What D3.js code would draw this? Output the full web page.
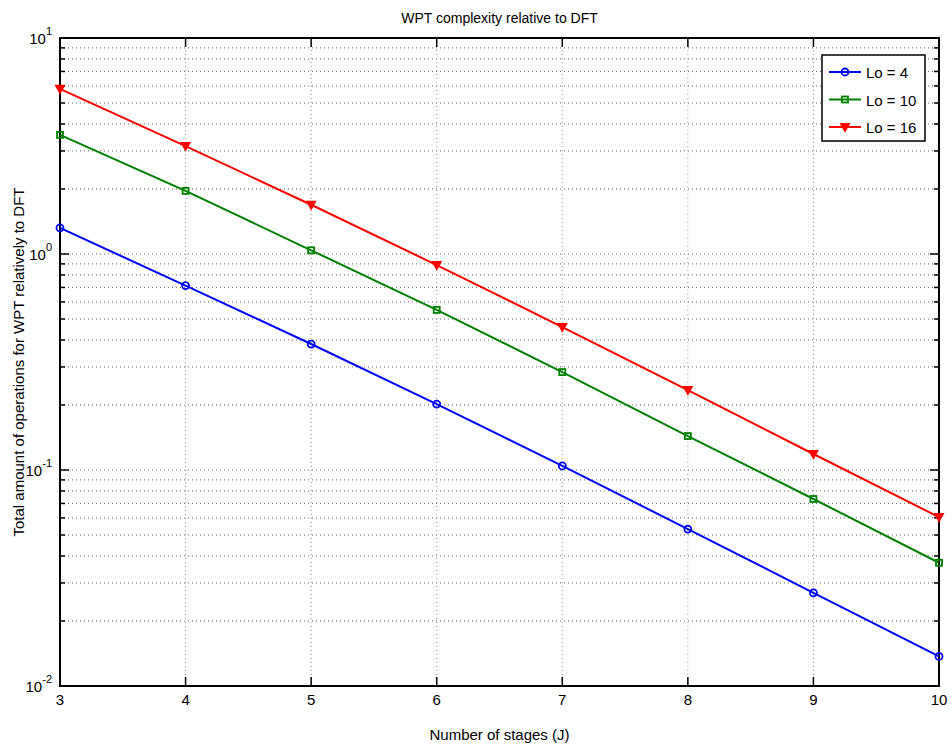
<!DOCTYPE html>
<html><head><meta charset="utf-8">
<script src="https://cdn.jsdelivr.net/npm/d3@7"></script>
<style>body{margin:0;background:#fff;} text{font-family:"Liberation Sans",Arial,sans-serif;}</style>
</head><body>
<svg id="c" width="952" height="751"></svg>
<script>
const stages = [3,4,5,6,7,8,9,10];
const lo4  = [1.32,0.714,0.383,0.202,0.1044,0.0533,0.0270,0.0137];
const lo10 = [3.56,1.96,1.04,0.551,0.284,0.1436,0.0734,0.0372];
const lo16 = [5.81,3.16,1.69,0.889,0.459,0.2344,0.1186,0.0605];
const seriesNames = ["Lo = 4","Lo = 10","Lo = 16"];
const seriesColors = ["#0000ff","#008000","#ff0000"];
const seriesMarkers = ["circle","square","triangle"];
const xTicks = [3,4,5,6,7,8,9,10];
const yDecades = [-2,-1,0,1];

const svg = d3.select("#c");
const L=60,R=939,T=38,B=686;
const x = d3.scaleLinear().domain([3,10]).range([L,R]);
const y = d3.scaleLog().domain([0.01,10]).range([B,T]);

const g = svg.append("g");
// grid
const minors=[];
for(let e=-2;e<1;e++) for(let k=1;k<10;k++) minors.push(k*Math.pow(10,e));
minors.push(10);
g.selectAll(".hg").data(minors).enter().append("line")
 .attr("x1",L).attr("x2",R).attr("y1",d=>y(d)).attr("y2",d=>y(d))
 .attr("stroke","#666").attr("stroke-width",1).attr("stroke-dasharray","1,3");
g.selectAll(".vg").data(xTicks).enter().append("line")
 .attr("x1",d=>x(d)).attr("x2",d=>x(d)).attr("y1",T).attr("y2",B)
 .attr("stroke","#999").attr("stroke-width",1).attr("stroke-dasharray","1,3");

// ticks inside
minors.forEach(v=>{
  const major = Math.abs(Math.log10(v)-Math.round(Math.log10(v)))<1e-9;
  const len = major?9:5;
  g.append("line").attr("x1",L).attr("x2",L+len).attr("y1",y(v)).attr("y2",y(v)).attr("stroke","#000").attr("stroke-width",1.5);
  g.append("line").attr("x1",R).attr("x2",R-len).attr("y1",y(v)).attr("y2",y(v)).attr("stroke","#000").attr("stroke-width",1.5);
});
xTicks.forEach(v=>{
  g.append("line").attr("x1",x(v)).attr("x2",x(v)).attr("y1",B).attr("y2",B-9).attr("stroke","#000").attr("stroke-width",1.5);
  g.append("line").attr("x1",x(v)).attr("x2",x(v)).attr("y1",T).attr("y2",T+9).attr("stroke","#000").attr("stroke-width",1.5);
});
// frame
g.append("rect").attr("x",L).attr("y",T).attr("width",R-L).attr("height",B-T)
 .attr("fill","none").attr("stroke","#000").attr("stroke-width",2);

// x tick labels
g.selectAll(".xl").data(xTicks).enter().append("text")
 .attr("x",d=>x(d)).attr("y",B+19).attr("text-anchor","middle")
 .attr("font-size",15).text(d=>d);
// y tick labels
yDecades.forEach(e=>{
  const t=g.append("text").attr("x",L-8).attr("y",y(Math.pow(10,e))+6).attr("text-anchor","end").attr("font-size",15);
  t.append("tspan").text("10");
  t.append("tspan").attr("dy",-9).attr("font-size",11).text(e);
});

// series
const all=[lo4,lo10,lo16];
const line=d3.line().x((d,i)=>x(stages[i])).y(d=>y(d));
function marker(sel,type,color,cx,cy){
  if(type==="circle") sel.append("circle").attr("cx",cx).attr("cy",cy).attr("r",3.5).attr("fill","none").attr("stroke",color).attr("stroke-width",1.8);
  else if(type==="square") sel.append("rect").attr("x",cx-3).attr("y",cy-3).attr("width",6).attr("height",6).attr("fill","none").attr("stroke",color).attr("stroke-width",1.8);
  else sel.append("path").attr("d",`M${cx-4.5},${cy-3.5}L${cx+4.5},${cy-3.5}L${cx},${cy+4.5}Z`).attr("fill",color).attr("stroke",color).attr("stroke-width",1.2);
}
all.forEach((s,k)=>{
  g.append("path").datum(s).attr("d",line).attr("fill","none").attr("stroke",seriesColors[k]).attr("stroke-width",2);
  s.forEach((v,i)=>marker(g,seriesMarkers[k],seriesColors[k],x(stages[i]),y(v)));
});

// legend
const lg=svg.append("g");
lg.append("rect").attr("x",822).attr("y",55).attr("width",103).attr("height",86).attr("fill","#fff").attr("stroke","#000").attr("stroke-width",1.5);
seriesNames.forEach((n,k)=>{
  const yy=72+k*27.5;
  lg.append("line").attr("x1",829).attr("x2",861).attr("y1",yy).attr("y2",yy).attr("stroke",seriesColors[k]).attr("stroke-width",2);
  marker(lg,seriesMarkers[k],seriesColors[k],845,yy);
  lg.append("text").attr("x",866).attr("y",yy+6).attr("font-size",15).text(n);
});

// titles
svg.append("text").attr("x",(L+R)/2).attr("y",23).attr("text-anchor","middle").attr("font-size",14).text("WPT complexity relative to DFT");
svg.append("text").attr("x",(L+R)/2).attr("y",740).attr("text-anchor","middle").attr("font-size",15).text("Number of stages (J)");
svg.append("text").attr("transform",`translate(24,${(T+B)/2}) rotate(-90)`).attr("text-anchor","middle").attr("font-size",15).text("Total amount of operations for WPT relatively to DFT");
</script>
</body></html>
